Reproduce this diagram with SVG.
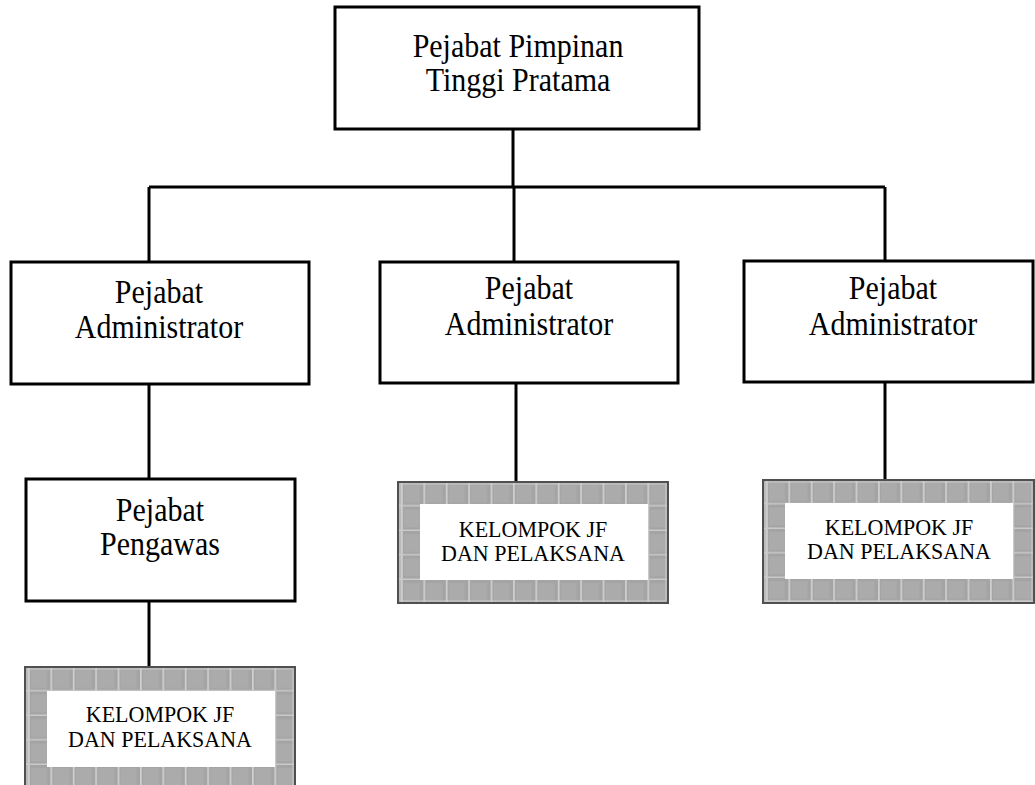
<svg xmlns="http://www.w3.org/2000/svg" width="1035" height="785" viewBox="0 0 1035 785">
  <style>
    .box { fill: #ffffff; stroke: #000000; stroke-width: 3; }
    .lbl { font-family: "Liberation Serif", "Times New Roman", serif; font-size: 30px; fill: #000000; text-anchor: middle; }
    .grp { font-family: "Liberation Serif", "Times New Roman", serif; font-size: 22px; fill: #000000; text-anchor: middle; }
    .tiled { fill: url(#tiles); stroke: #505050; stroke-width: 2; }
    .tiled-in { fill: none; stroke: #cfcfcf; stroke-width: 1; }
    .inner { fill: #ffffff; stroke: none; }
    .conn { stroke: #000000; stroke-width: 3; fill: none; }
  </style>
  <defs>
    <!-- grey tile texture for the group boxes -->
    <pattern id="tiles" patternUnits="userSpaceOnUse" x="3" y="0" width="22.4" height="24.5">
      <rect x="0" y="0" width="22.4" height="24.5" fill="#a4a4a4"/>
      <rect x="3" y="3" width="16" height="18" fill="#ababab"/>
      <rect x="0" y="0" width="1.8" height="24.5" fill="#cdcdcd"/>
      <rect x="0" y="23" width="22.4" height="1.5" fill="#c9c9c9"/>
    </pattern>
  </defs>

  <!-- connectors -->
  <g id="connectors">
    <path class="conn" d="M513 129 V187"/>
    <path class="conn" d="M149 187 H885"/>
    <path class="conn" d="M149 187 V262"/>
    <path class="conn" d="M514 187 V262"/>
    <path class="conn" d="M885 187 V261"/>
    <path class="conn" d="M149 384 V479"/>
    <path class="conn" d="M149 601 V667"/>
    <path class="conn" d="M516 384 V482"/>
    <path class="conn" d="M885 382 V480"/>
  </g>

  <g id="pimpinan">
    <rect class="box" x="335" y="7" width="364" height="122"/>
    <text class="lbl" transform="translate(518 57) scale(1 1.12)">Pejabat Pimpinan</text>
    <text class="lbl" transform="translate(518 91) scale(1 1.12)">Tinggi Pratama</text>
  </g>

  <g id="admin-1">
    <rect class="box" x="11" y="262" width="298" height="122"/>
    <text class="lbl" transform="translate(159 303) scale(1 1.12)">Pejabat</text>
    <text class="lbl" transform="translate(159 338) scale(1 1.12)">Administrator</text>
  </g>

  <g id="admin-2">
    <rect class="box" x="380" y="262" width="298" height="121"/>
    <text class="lbl" transform="translate(529 299) scale(1 1.12)">Pejabat</text>
    <text class="lbl" transform="translate(529 335) scale(1 1.12)">Administrator</text>
  </g>

  <g id="admin-3">
    <rect class="box" x="744" y="261" width="289" height="121"/>
    <text class="lbl" transform="translate(893 299) scale(1 1.12)">Pejabat</text>
    <text class="lbl" transform="translate(893 335) scale(1 1.12)">Administrator</text>
  </g>

  <g id="pengawas">
    <rect class="box" x="26" y="479" width="269" height="122"/>
    <text class="lbl" transform="translate(160 521) scale(1 1.12)">Pejabat</text>
    <text class="lbl" transform="translate(160 555) scale(1 1.12)">Pengawas</text>
  </g>

  <g id="kelompok-2" transform="translate(398 482)">
    <rect class="tiled" x="0" y="0" width="270" height="121"/>
    <rect class="tiled-in" x="2" y="2" width="266" height="117"/>
    <rect class="inner" x="22" y="22" width="228" height="76"/>
    <text class="grp" transform="translate(135 55) scale(1 1.08)">KELOMPOK JF</text>
    <text class="grp" transform="translate(135 79) scale(1 1.08)">DAN PELAKSANA</text>
  </g>

  <g id="kelompok-3" transform="translate(763 480)">
    <rect class="tiled" x="0" y="0" width="271" height="123"/>
    <rect class="tiled-in" x="2" y="2" width="267" height="119"/>
    <rect class="inner" x="22" y="23" width="228" height="76"/>
    <text class="grp" transform="translate(136 55) scale(1 1.08)">KELOMPOK JF</text>
    <text class="grp" transform="translate(136 79) scale(1 1.08)">DAN PELAKSANA</text>
  </g>

  <g id="kelompok-1" transform="translate(25 667)">
    <rect class="tiled" x="0" y="0" width="270" height="130"/>
    <rect class="tiled-in" x="2" y="2" width="266" height="126"/>
    <rect class="inner" x="22" y="24" width="228" height="76"/>
    <text class="grp" transform="translate(135 55) scale(1 1.08)">KELOMPOK JF</text>
    <text class="grp" transform="translate(135 80) scale(1 1.08)">DAN PELAKSANA</text>
  </g>
</svg>
